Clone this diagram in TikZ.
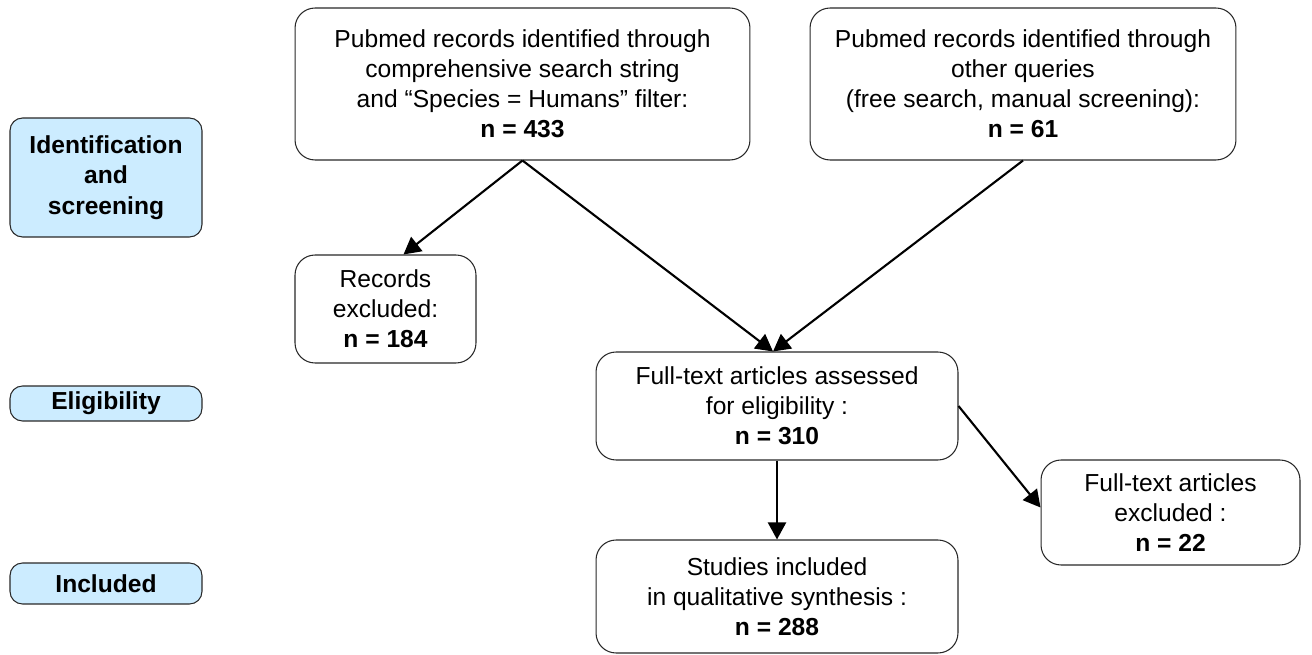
\documentclass[tikz,border=0pt]{standalone}
\usepackage{fontspec}
\setmainfont{Liberation Sans}
\usetikzlibrary{arrows.meta}
\definecolor{phaseblue}{RGB}{204,236,255}
\definecolor{boxline}{RGB}{40,40,40}
\tikzset{
  recbox/.style={draw=boxline, line width=0.6pt, rounded corners=0.4cm, align=center,
    inner sep=0pt, font=\fontsize{14}{17}\selectfont},
  phasebox/.style={draw=boxline, line width=0.6pt, fill=phaseblue, rounded corners=0.25cm,
    align=center, inner sep=0pt, font=\fontsize{14}{17.5}\selectfont\bfseries,
    minimum width=3.84cm},
  flowarrow/.style={line width=1.2pt, -{Triangle[length=0.34cm,width=0.36cm]}}
}
\begin{document}
\begin{tikzpicture}[x=0.02cm,y=-0.02cm]
\useasboundingbox (0,0) rectangle (1312,655);

% Phase labels
\node [phasebox, minimum height=2.38cm] (idphase) at (106,177.5) {Identification\\and\\screening};
\node [phasebox, minimum height=0.70cm] (elphase) at (106,403.5) {Eligibility};
\node [phasebox, minimum height=0.82cm] (inphase) at (106,583.5) {Included};

% Records
\node [recbox, minimum width=9.10cm, minimum height=3.04cm] (pmsearch) at (522.5,84)
  {Pubmed records identified through\\comprehensive search string\\and “Species = Humans” filter:\\\textbf{n = 433}};
\node [recbox, minimum width=8.52cm, minimum height=3.04cm] (pmother) at (1023,84)
  {Pubmed records identified through\\other queries\\(free search, manual screening):\\\textbf{n = 61}};
\node [recbox, minimum width=3.62cm, minimum height=2.16cm] (recexcl) at (385.5,309)
  {Records\\excluded:\\\textbf{n = 184}};
\node [recbox, minimum width=7.24cm, minimum height=2.16cm] (fulltext) at (777,406)
  {Full-text articles assessed\\for eligibility :\\\textbf{n = 310}};
\node [recbox, minimum width=5.18cm, minimum height=2.10cm] (ftexcl) at (1170.5,512.5)
  {Full-text articles\\excluded :\\\textbf{n = 22}};
\node [recbox, minimum width=7.24cm, minimum height=2.26cm] (studies) at (777,596.5)
  {Studies included\\in qualitative synthesis :\\\textbf{n = 288}};

% Connectors
\draw [flowarrow] (pmsearch.south) -- ([xshift=0.36cm]recexcl.north);
\draw [flowarrow] (pmsearch.south) -- ([xshift=-0.08cm]fulltext.north);
\draw [flowarrow] (pmother.south) -- ([xshift=-0.08cm]fulltext.north);
\draw [flowarrow] (fulltext.east) -- ([yshift=0.1cm]ftexcl.west);
\draw [flowarrow] (fulltext.south) -- (studies.north);
\end{tikzpicture}
\end{document}
